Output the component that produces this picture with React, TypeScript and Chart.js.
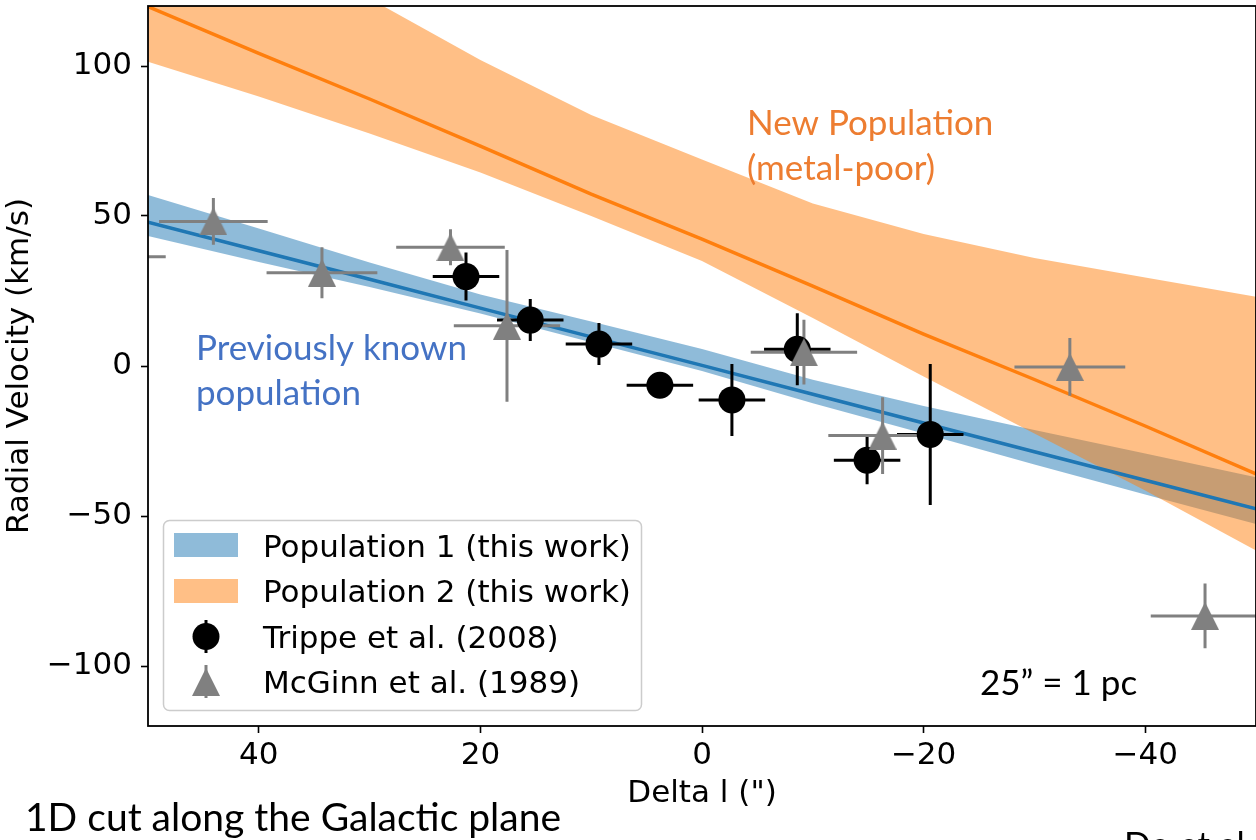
import React, { useEffect, useRef } from "react";
import { Chart, registerables } from "chart.js";

Chart.register(...registerables);

// Axis ticks
const xTicks = [40, 20, 0, -20, -40];
const yTicks = [-100, -50, 0, 50, 100];

// Sample positions (arcsec) for the fitted velocity gradients
const bandX = [50, 40, 30, 20, 10, 0, -10, -20, -30, -40, -50];

// Population 1: best fit and uncertainty envelope (km/s)
const pop1Fit = [47.9, 38.4, 28.9, 19.3, 9.7, 0.2, -9.4, -19.0, -28.6, -38.1, -47.6];
const pop1Upper = [57.0, 45.8, 34.5, 23.8, 14.8, 5.7, -4.6, -13.3, -21.3, -29.2, -37.1];
const pop1Lower = [43.3, 34.7, 26.3, 17.5, 7.9, -1.7, -12.4, -22.5, -32.8, -42.8, -52.7];

// Population 2: best fit and uncertainty envelope (km/s)
const pop2Fit = [119.8, 104.2, 89.0, 73.3, 57.3, 42.3, 26.6, 10.6, -4.5, -20.0, -36.0];
const pop2Upper = [163.0, 143.0, 122.5, 102.0, 83.7, 68.8, 54.2, 44.0, 36.0, 29.5, 23.1];
const pop2Lower = [101.4, 89.8, 77.5, 64.5, 50.0, 35.0, 16.0, -3.5, -22.5, -41.5, -61.5];

// Trippe et al. (2008)
const trippeX = [21.3, 15.5, 9.3, 3.8, -2.7, -8.6, -14.9, -20.6];
const trippeY = [29.8, 15.3, 7.3, -6.4, -11.3, 5.6, -31.4, -22.8];
const trippeXErr = [3, 3, 3, 3, 3, 3, 3, 3];
const trippeYErr = [8, 7, 7, 2, 12, 12, 8, 23.5];

// McGinn et al. (1989)
const mcginnX = [53.3, 44.1, 34.3, 22.7, 17.6, -9.2, -16.3, -33.2, -45.4];
const mcginnY = [36.4, 48.2, 31.1, 39.6, 13.4, 4.6, -23.2, -0.3, -83.3];
const mcginnXErr = [4.9, 4.9, 5.0, 4.9, 4.8, 4.8, 4.9, 5.0, 4.9];
const mcginnYErr = [8, 7.8, 8.5, 6, 25.3, 10.8, 12.8, 9.6, 10.8];

const BLUE = "#1f77b4";
const ORANGE = "#ff7f0e";
const BLUE_FILL = "rgba(31,119,180,0.5)";
const ORANGE_FILL = "rgba(255,127,14,0.5)";
const GRAY = "#808080";
const TICK_FONT = "DejaVu Sans";
const TEXT_SIZE = 31;
const NOTE_FONT = "Lato";

const TRIPPE_INDEX = 6;
const MCGINN_INDEX = 7;

const minus = (v: number | string) => String(v).replace("-", "\u2212");

function makeTriangle(size: number, color: string): HTMLCanvasElement {
  const c = document.createElement("canvas");
  c.width = size;
  c.height = size;
  const g = c.getContext("2d")!;
  g.fillStyle = color;
  g.beginPath();
  g.moveTo(size / 2, 0);
  g.lineTo(size, size);
  g.lineTo(0, size);
  g.closePath();
  g.fill();
  return c;
}

const pairs = (xs: number[], ys: number[]) => xs.map((x, i) => ({ x, y: ys[i] }));
const withErr = (xs: number[], ys: number[], xe: number[], ye: number[]) =>
  xs.map((x, i) => ({ x, y: ys[i], xerr: xe[i], yerr: ye[i] }));

// Error bars are drawn under all markers, black set first then gray set
const errorBarPlugin = {
  id: "errorBars",
  beforeDatasetDraw(chart: any, args: any) {
    if (args.index !== TRIPPE_INDEX) return;
    const { ctx, chartArea } = chart;
    const xs = chart.scales.x;
    const ys = chart.scales.y;
    ctx.save();
    ctx.beginPath();
    ctx.rect(chartArea.left, chartArea.top, chartArea.right - chartArea.left, chartArea.bottom - chartArea.top);
    ctx.clip();
    for (const idx of [TRIPPE_INDEX, MCGINN_INDEX]) {
      const ds = chart.data.datasets[idx];
      ctx.strokeStyle = ds.errorColor;
      ctx.lineWidth = 3;
      ctx.lineCap = "butt";
      for (const p of ds.data) {
        const px = xs.getPixelForValue(p.x);
        const py = ys.getPixelForValue(p.y);
        ctx.beginPath();
        ctx.moveTo(xs.getPixelForValue(p.x + p.xerr), py);
        ctx.lineTo(xs.getPixelForValue(p.x - p.xerr), py);
        ctx.moveTo(px, ys.getPixelForValue(p.y + p.yerr));
        ctx.lineTo(px, ys.getPixelForValue(p.y - p.yerr));
        ctx.stroke();
      }
    }
    ctx.restore();
  },
};

// Full box around the plotting area
const framePlugin = {
  id: "frame",
  afterDatasetsDraw(chart: any) {
    const { ctx, chartArea } = chart;
    ctx.save();
    ctx.strokeStyle = "#000";
    ctx.lineWidth = 1.8;
    ctx.strokeRect(chartArea.left, chartArea.top, chartArea.right - chartArea.left, chartArea.bottom - chartArea.top);
    ctx.restore();
  },
};

const triangleMarker = makeTriangle(28, GRAY);

// Legend box in the lower-left corner of the axes
const legendPlugin = {
  id: "cornerLegend",
  afterDatasetsDraw(chart: any) {
    const { ctx } = chart;
    ctx.save();
    ctx.beginPath();
    ctx.roundRect(163.5, 520.5, 478, 190, 6);
    ctx.fillStyle = "rgba(255,255,255,0.8)";
    ctx.fill();
    ctx.strokeStyle = "#cccccc";
    ctx.lineWidth = 1.5;
    ctx.stroke();

    ctx.fillStyle = BLUE_FILL;
    ctx.fillRect(174, 533, 64, 24);
    ctx.fillStyle = ORANGE_FILL;
    ctx.fillRect(174, 579, 64, 24);

    ctx.strokeStyle = "#000";
    ctx.lineWidth = 3;
    ctx.beginPath();
    ctx.moveTo(206, 620);
    ctx.lineTo(206, 653);
    ctx.stroke();
    ctx.fillStyle = "#000";
    ctx.beginPath();
    ctx.arc(206, 636.5, 13.5, 0, Math.PI * 2);
    ctx.fill();

    ctx.strokeStyle = GRAY;
    ctx.beginPath();
    ctx.moveTo(206, 665);
    ctx.lineTo(206, 698);
    ctx.stroke();
    ctx.drawImage(triangleMarker, 206 - 14, 682 - 14);

    ctx.fillStyle = "#000";
    ctx.font = `${TEXT_SIZE}px "${TICK_FONT}"`;
    ctx.textBaseline = "alphabetic";
    ctx.textAlign = "left";
    const labels = chart.data.datasets
      .filter((d: any) => d.legendText)
      .map((d: any) => d.legendText);
    const baselines = [557, 602, 647.5, 693];
    labels.forEach((t: string, i: number) => ctx.fillText(t, 263, baselines[i]));
    ctx.restore();
  },
};

// Slide notes placed over and around the plot
const notesPlugin = {
  id: "notes",
  afterDraw(chart: any) {
    const { ctx } = chart;
    ctx.save();
    ctx.textBaseline = "alphabetic";
    ctx.textAlign = "left";
    ctx.font = `35px "${NOTE_FONT}"`;
    ctx.fillStyle = "#ED7D31";
    ctx.fillText("New Population", 747, 135);
    ctx.fillText("(metal-poor)", 747, 180);
    ctx.fillStyle = "#4472C4";
    ctx.fillText("Previously known", 196, 360);
    ctx.fillText("population", 196, 405);
    ctx.fillStyle = "#000";
    ctx.fillText("25\u201D = 1 pc", 980, 695);
    ctx.font = `39px "${NOTE_FONT}"`;
    ctx.fillText("1D cut along the Galactic plane", 25, 831);
    ctx.font = `35px "${NOTE_FONT}"`;
    ctx.fillText("Do et al.", 1124, 857);
    ctx.restore();
  },
};

export default function App() {
  const canvasRef = useRef<HTMLCanvasElement>(null);

  useEffect(() => {
    const canvas = canvasRef.current;
    if (!canvas) return;

    const chart = new Chart(canvas, {
      type: "scatter",
      data: {
        datasets: [
          {
            label: "Population 1 lower",
            data: pairs(bandX, pop1Lower),
            showLine: true,
            borderColor: "transparent",
            borderWidth: 0,
            pointRadius: 0,
            fill: false,
            order: 20,
          },
          {
            label: "Population 1 (this work)",
            legendText: "Population 1 (this work)",
            data: pairs(bandX, pop1Upper),
            showLine: true,
            borderColor: "transparent",
            borderWidth: 0,
            pointRadius: 0,
            backgroundColor: BLUE_FILL,
            fill: "-1",
            order: 19,
          },
          {
            label: "Population 2 lower",
            data: pairs(bandX, pop2Lower),
            showLine: true,
            borderColor: "transparent",
            borderWidth: 0,
            pointRadius: 0,
            fill: false,
            order: 18,
          },
          {
            label: "Population 2 (this work)",
            legendText: "Population 2 (this work)",
            data: pairs(bandX, pop2Upper),
            showLine: true,
            borderColor: "transparent",
            borderWidth: 0,
            pointRadius: 0,
            backgroundColor: ORANGE_FILL,
            fill: "-1",
            order: 17,
          },
          {
            label: "Population 1 fit",
            data: pairs(bandX, pop1Fit),
            showLine: true,
            borderColor: BLUE,
            borderWidth: 3.5,
            pointRadius: 0,
            fill: false,
            order: 16,
          },
          {
            label: "Population 2 fit",
            data: pairs(bandX, pop2Fit),
            showLine: true,
            borderColor: ORANGE,
            borderWidth: 3.5,
            pointRadius: 0,
            fill: false,
            order: 15,
          },
          {
            label: "Trippe et al. (2008)",
            legendText: "Trippe et al. (2008)",
            errorColor: "#000",
            data: withErr(trippeX, trippeY, trippeXErr, trippeYErr),
            pointStyle: "circle",
            pointRadius: 13.5,
            backgroundColor: "#000",
            borderWidth: 0,
            order: 12,
          },
          {
            label: "McGinn et al. (1989)",
            legendText: "McGinn et al. (1989)",
            errorColor: GRAY,
            data: withErr(mcginnX, mcginnY, mcginnXErr, mcginnYErr),
            pointStyle: triangleMarker,
            pointRadius: 14,
            backgroundColor: GRAY,
            borderWidth: 0,
            order: 11,
          },
        ] as any,
      },
      options: {
        responsive: false,
        maintainAspectRatio: false,
        animation: false,
        devicePixelRatio: 1,
        events: [],
        layout: { padding: { top: 6, right: 0, bottom: 0, left: 0 }, autoPadding: false },
        plugins: {
          legend: { display: false },
          tooltip: { enabled: false },
          title: { display: false },
        },
        scales: {
          x: {
            type: "linear",
            min: -50,
            max: 50,
            reverse: true,
            border: { display: false },
            grid: {
              display: true,
              drawOnChartArea: false,
              drawTicks: true,
              tickLength: 7,
              tickWidth: 1.6,
              tickColor: "#000",
            },
            ticks: {
              color: "#000",
              font: { family: TICK_FONT, size: TEXT_SIZE },
              padding: 4,
              maxRotation: 0,
              autoSkip: false,
              callback: (v: any) => minus(v),
            },
            afterBuildTicks: (scale: any) => {
              scale.ticks = xTicks.map((value) => ({ value }));
            },
            afterFit: (scale: any) => {
              scale.height = 114;
              scale.paddingLeft = 0;
              scale.paddingRight = 0;
            },
            title: {
              display: true,
              text: 'Delta l (")',
              color: "#000",
              font: { family: TICK_FONT, size: TEXT_SIZE },
              padding: { top: 0, bottom: 27 },
            },
          },
          y: {
            type: "linear",
            min: -120,
            max: 120,
            border: { display: false },
            grid: {
              display: true,
              drawOnChartArea: false,
              drawTicks: true,
              tickLength: 7,
              tickWidth: 1.6,
              tickColor: "#000",
            },
            ticks: {
              color: "#000",
              font: { family: TICK_FONT, size: TEXT_SIZE },
              padding: 9,
              autoSkip: false,
              callback: (v: any) => minus(v),
            },
            afterBuildTicks: (scale: any) => {
              scale.ticks = yTicks.map((value) => ({ value }));
            },
            afterFit: (scale: any) => {
              scale.width = 148;
              scale.paddingTop = 0;
              scale.paddingBottom = 0;
            },
            title: {
              display: true,
              text: "Radial Velocity (km/s)",
              color: "#000",
              font: { family: TICK_FONT, size: TEXT_SIZE },
              padding: { top: 1, bottom: 0 },
            },
          },
        },
      } as any,
      plugins: [errorBarPlugin, framePlugin, legendPlugin, notesPlugin],
    });

    return () => chart.destroy();
  }, []);

  return (
    <div
      style={{
        position: "absolute",
        left: 0,
        top: 0,
        width: 1256,
        height: 840,
        overflow: "hidden",
        background: "#fff",
      }}
    >
      <canvas ref={canvasRef} width={1256} height={840} style={{ display: "block", width: 1256, height: 840 }} />
    </div>
  );
}
